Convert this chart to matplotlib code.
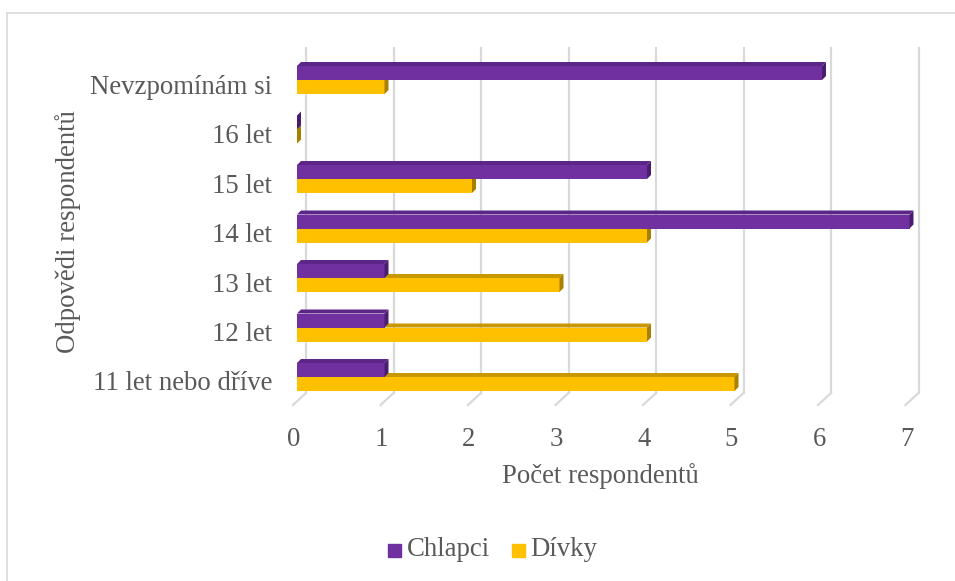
import matplotlib
matplotlib.use("Agg")
import matplotlib.pyplot as plt
from matplotlib.patches import Polygon, Rectangle
from matplotlib.lines import Line2D
from matplotlib.transforms import ScaledTranslation
import numpy as np

plt.rcParams['font.family'] = ['Liberation Serif', 'DejaVu Serif']

kategorie = ["11 let nebo dříve", "12 let", "13 let", "14 let", "15 let", "16 let", "Nevzpomínám si"]
chlapci = [1, 1, 1, 7, 4, 0, 6]
divky = [5, 4, 3, 4, 2, 0, 1]
x_ticks = [0, 1, 2, 3, 4, 5, 6, 7]

fialova = "#7030A0"
fialova_horni = "#5B2688"
fialova_bok = "#4A1D70"
zluta = "#FFC000"
zluta_horni = "#C99700"
zluta_bok = "#A88000"
seda_text = "#595959"
mrizka = "#D9D9D9"
fs = 19.3

W, H = 955, 581
fig = plt.figure(figsize=(W / 100, H / 100), dpi=100)

# rozmery grafu v pixelech
px_left, px_right = 297, 909.5
px_top, px_bottom = 30, 405
unit_x = (px_right - px_left) / 7
unit_y = 49.5
y0_px = 377
ymin = (y0_px - px_bottom) / unit_y
ymax = (y0_px - px_top) / unit_y

ax = fig.add_axes([px_left / W, (H - px_bottom) / H,
                   (px_right - px_left) / W, (px_bottom - px_top) / H])
ax.set_xlim(0, 7)
ax.set_ylim(ymin, ymax)
for s in ax.spines.values():
    s.set_visible(False)

# hloubka 3D efektu
dx = 4 / unit_x
dy = 4 / unit_y
h = 14 / unit_y

# mrizka na zadni stene a sikme carky na podlaze
back = 9 / unit_x
for t in x_ticks:
    ax.plot([t + back, t + back], [(y0_px - 393) / unit_y, (y0_px - 48) / unit_y],
            color=mrizka, lw=1.6, zorder=1, clip_on=False)
    ax.plot([t - 4 / unit_x, t + back], [ymin, (y0_px - 393) / unit_y],
            color=mrizka, lw=1.6, zorder=1, clip_on=False)

y = np.arange(len(kategorie))


def kvadr(hodnoty, stred, barvy, z):
    predni, horni, bok = barvy
    ax.barh(stred, hodnoty, height=h, color=predni, zorder=z, clip_on=False)
    for yi, v in zip(stred, hodnoty):
        yb, yt = yi - h / 2, yi + h / 2
        ax.add_patch(Polygon([(0, yt), (v, yt), (v + dx, yt + dy), (dx, yt + dy)],
                             closed=True, color=horni, lw=0, zorder=z, clip_on=False))
        ax.add_patch(Polygon([(v, yb), (v, yt), (v + dx, yt + dy), (v + dx, yb + dy)],
                             closed=True, color=bok, lw=0, zorder=z, clip_on=False))


# divky pod chlapci, kresleno drive
kvadr(divky, y - h / 2, (zluta, zluta_horni, zluta_bok), 3)
kvadr(chlapci, y + h / 2, (fialova, fialova_horni, fialova_bok), 4)

# popisky os
ax.set_xticks(x_ticks)
ax.set_xticklabels([str(t) for t in x_ticks], fontsize=fs, color=seda_text)
ax.tick_params(axis="x", length=0, pad=16)
for lab in ax.get_xticklabels():
    lab.set_transform(lab.get_transform() + ScaledTranslation(-3 / 100, 0, fig.dpi_scale_trans))

ax.set_yticks(y - 4 / unit_y)
ax.set_yticklabels(kategorie, fontsize=fs, color=seda_text)
ax.tick_params(axis="y", length=0, pad=18)

fig.text(600 / W, 1 - 476 / H, "Počet respondentů", fontsize=fs, color=seda_text,
         ha="center", va="center")
fig.text(68 / W, 1 - 232 / H, "Odpovědi respondentů", fontsize=fs, color=seda_text,
         ha="center", va="center", rotation=90)

# legenda
fig.patches.append(Rectangle((388 / W, 1 - 557 / H), 13 / W, 13 / H,
                             transform=fig.transFigure, color=fialova))
fig.text(407 / W, 1 - 550 / H, "Chlapci", fontsize=fs, color=seda_text, va="center")
fig.patches.append(Rectangle((512 / W, 1 - 557 / H), 13 / W, 13 / H,
                             transform=fig.transFigure, color=zluta))
fig.text(530 / W, 1 - 550 / H, "Dívky", fontsize=fs, color=seda_text, va="center")

# ramecek grafu
fig.add_artist(Line2D([7 / W, 1], [1 - 13 / H, 1 - 13 / H], transform=fig.transFigure,
                      color=mrizka, lw=1.2))
fig.add_artist(Line2D([7 / W, 7 / W], [0, 1 - 13 / H], transform=fig.transFigure,
                      color=mrizka, lw=1.2))

fig.savefig("out.png", dpi=100)
